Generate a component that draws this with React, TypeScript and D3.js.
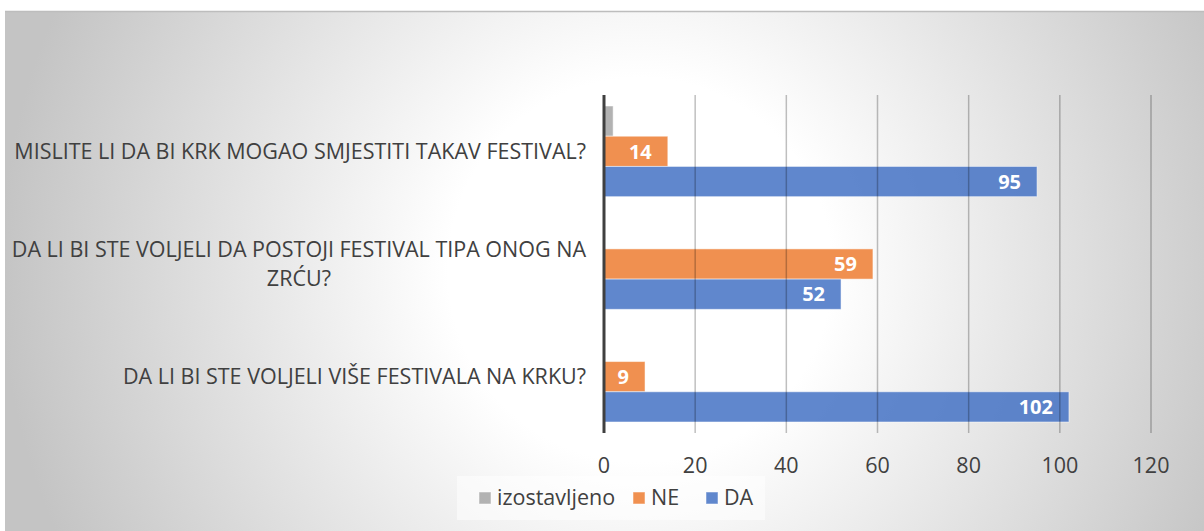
import React, { useEffect, useRef } from "react";
import * as d3 from "d3";

const categories = [
  "MISLITE LI DA BI KRK MOGAO SMJESTITI TAKAV FESTIVAL?",
  "DA LI BI STE VOLJELI DA POSTOJI FESTIVAL TIPA ONOG NA ZRĆU?",
  "DA LI BI STE VOLJELI VIŠE FESTIVALA NA KRKU?",
];
const categoryLines = [
  ["MISLITE LI DA BI KRK MOGAO SMJESTITI TAKAV FESTIVAL?"],
  ["DA LI BI STE VOLJELI DA POSTOJI FESTIVAL TIPA ONOG NA", "ZRĆU?"],
  ["DA LI BI STE VOLJELI VIŠE FESTIVALA NA KRKU?"],
];
const seriesNames = ["izostavljeno", "NE", "DA"];
const izostavljeno = [2, 0, 0];
const NE = [14, 59, 9];
const DA = [95, 52, 102];
const seriesColors = ["#A5A5A5", "#ED7D31", "#4472C4"];
const xTicks = [0, 20, 40, 60, 80, 100, 120];

const W = 1204;
const H = 531;
const FONT = "'Open Sans', 'Liberation Sans', sans-serif";
const FS = 21.5;

export default function App() {
  const ref = useRef<SVGSVGElement>(null);

  useEffect(() => {
    const svg = d3.select(ref.current);
    svg.selectAll("*").remove();

    const defs = svg.append("defs");
    const grad = defs
      .append("radialGradient")
      .attr("id", "bg")
      .attr("gradientUnits", "userSpaceOnUse")
      .attr("cx", 640)
      .attr("cy", 270)
      .attr("r", 640);
    grad.append("stop").attr("offset", "0").attr("stop-color", "#ffffff");
    grad.append("stop").attr("offset", "0.3").attr("stop-color", "#ffffff");
    grad.append("stop").attr("offset", "1").attr("stop-color", "#c4c4c4");

    svg
      .append("rect")
      .attr("x", 5)
      .attr("y", 11)
      .attr("width", W)
      .attr("height", H)
      .attr("fill", "url(#bg)");
    svg
      .append("line")
      .attr("x1", 5)
      .attr("x2", W)
      .attr("y1", 11.5)
      .attr("y2", 11.5)
      .attr("stroke", "#bdbdbd")
      .attr("stroke-width", 1.5);

    const x = d3.scaleLinear().domain([0, 120]).range([604, 1151]);
    const y = d3.scaleBand<number>().domain(d3.range(categories.length)).range([95, 433]);
    const inner = d3
      .scaleBand<number>()
      .domain(d3.range(seriesNames.length))
      .range([11, y.bandwidth() - 11]);

    const values = [izostavljeno, NE, DA];

    // bars
    const g = svg.append("g");
    categories.forEach((_, ci) => {
      values.forEach((vals, si) => {
        const v = vals[ci];
        if (v <= 0) return;
        g.append("rect")
          .attr("x", x(0))
          .attr("y", (y(ci) as number) + (inner(si) as number))
          .attr("width", x(v) - x(0))
          .attr("height", inner.bandwidth())
          .attr("fill", seriesColors[si])
          .attr("fill-opacity", 0.85)
          .attr("stroke", "#ffffff")
          .attr("stroke-opacity", 0.5)
          .attr("stroke-width", 1);
      });
    });

    // gridlines (drawn over bars, semi-transparent)
    svg
      .append("g")
      .selectAll("line")
      .data(xTicks.filter((t) => t > 0))
      .join("line")
      .attr("x1", (d) => x(d))
      .attr("x2", (d) => x(d))
      .attr("y1", 95)
      .attr("y2", 433)
      .attr("stroke", "#000")
      .attr("stroke-opacity", 0.25)
      .attr("stroke-width", 1.5);

    // axis line
    svg
      .append("line")
      .attr("x1", x(0))
      .attr("x2", x(0))
      .attr("y1", 95)
      .attr("y2", 433)
      .attr("stroke", "#404040")
      .attr("stroke-width", 3);

    // data labels
    categories.forEach((_, ci) => {
      values.forEach((vals, si) => {
        if (si === 0) return;
        const v = vals[ci];
        if (v <= 0) return;
        g.append("text")
          .attr("x", x(v) - 16)
          .attr("y", (y(ci) as number) + (inner(si) as number) + inner.bandwidth() / 2)
          .attr("dy", "0.36em")
          .attr("text-anchor", "end")
          .attr("font-family", FONT)
          .attr("font-weight", 700)
          .attr("font-size", 20)
          .attr("fill", "#ffffff")
          .text(String(v));
      });
    });

    // x tick labels
    svg
      .append("g")
      .selectAll("text")
      .data(xTicks)
      .join("text")
      .attr("x", (d) => x(d))
      .attr("y", 473)
      .attr("text-anchor", "middle")
      .attr("font-family", FONT)
      .attr("font-size", FS)
      .attr("fill", "#404040")
      .text((d) => String(d));

    // category labels
    const lineH = 28.5;
    categoryLines.forEach((lines, ci) => {
      const cy = (y(ci) as number) + y.bandwidth() / 2;
      const n = lines.length;
      const texts = lines.map((ln, li) =>
        svg
          .append("text")
          .attr("y", cy + (li - (n - 1) / 2) * lineH)
          .attr("dy", "0.36em")
          .attr("font-family", FONT)
          .attr("font-size", FS)
          .attr("fill", "#404040")
          .text(ln)
      );
      const widths = texts.map((t) => (t.node() as SVGTextElement).getComputedTextLength());
      const maxW = Math.max(...widths);
      const center = 586 - maxW / 2;
      texts.forEach((t) => t.attr("x", center).attr("text-anchor", "middle"));
    });

    // legend
    svg
      .append("rect")
      .attr("x", 457)
      .attr("y", 476)
      .attr("width", 308)
      .attr("height", 44)
      .attr("fill", "#ffffff")
      .attr("fill-opacity", 0.5);
    const legendX = [479, 633, 706];
    seriesNames.forEach((name, si) => {
      svg
        .append("rect")
        .attr("x", legendX[si])
        .attr("y", 492)
        .attr("width", 12)
        .attr("height", 12)
        .attr("fill", seriesColors[si])
        .attr("fill-opacity", 0.85)
        .attr("stroke", "#ffffff")
        .attr("stroke-opacity", 0.5);
      svg
        .append("text")
        .attr("x", legendX[si] + 18)
        .attr("y", 505)
        .attr("font-family", FONT)
        .attr("font-size", FS)
        .attr("fill", "#404040")
        .text(name);
    });
  }, []);

  return (
    <svg
      ref={ref}
      width={W}
      height={H}
      style={{ position: "absolute", left: 0, top: 0, display: "block" }}
    />
  );
}
